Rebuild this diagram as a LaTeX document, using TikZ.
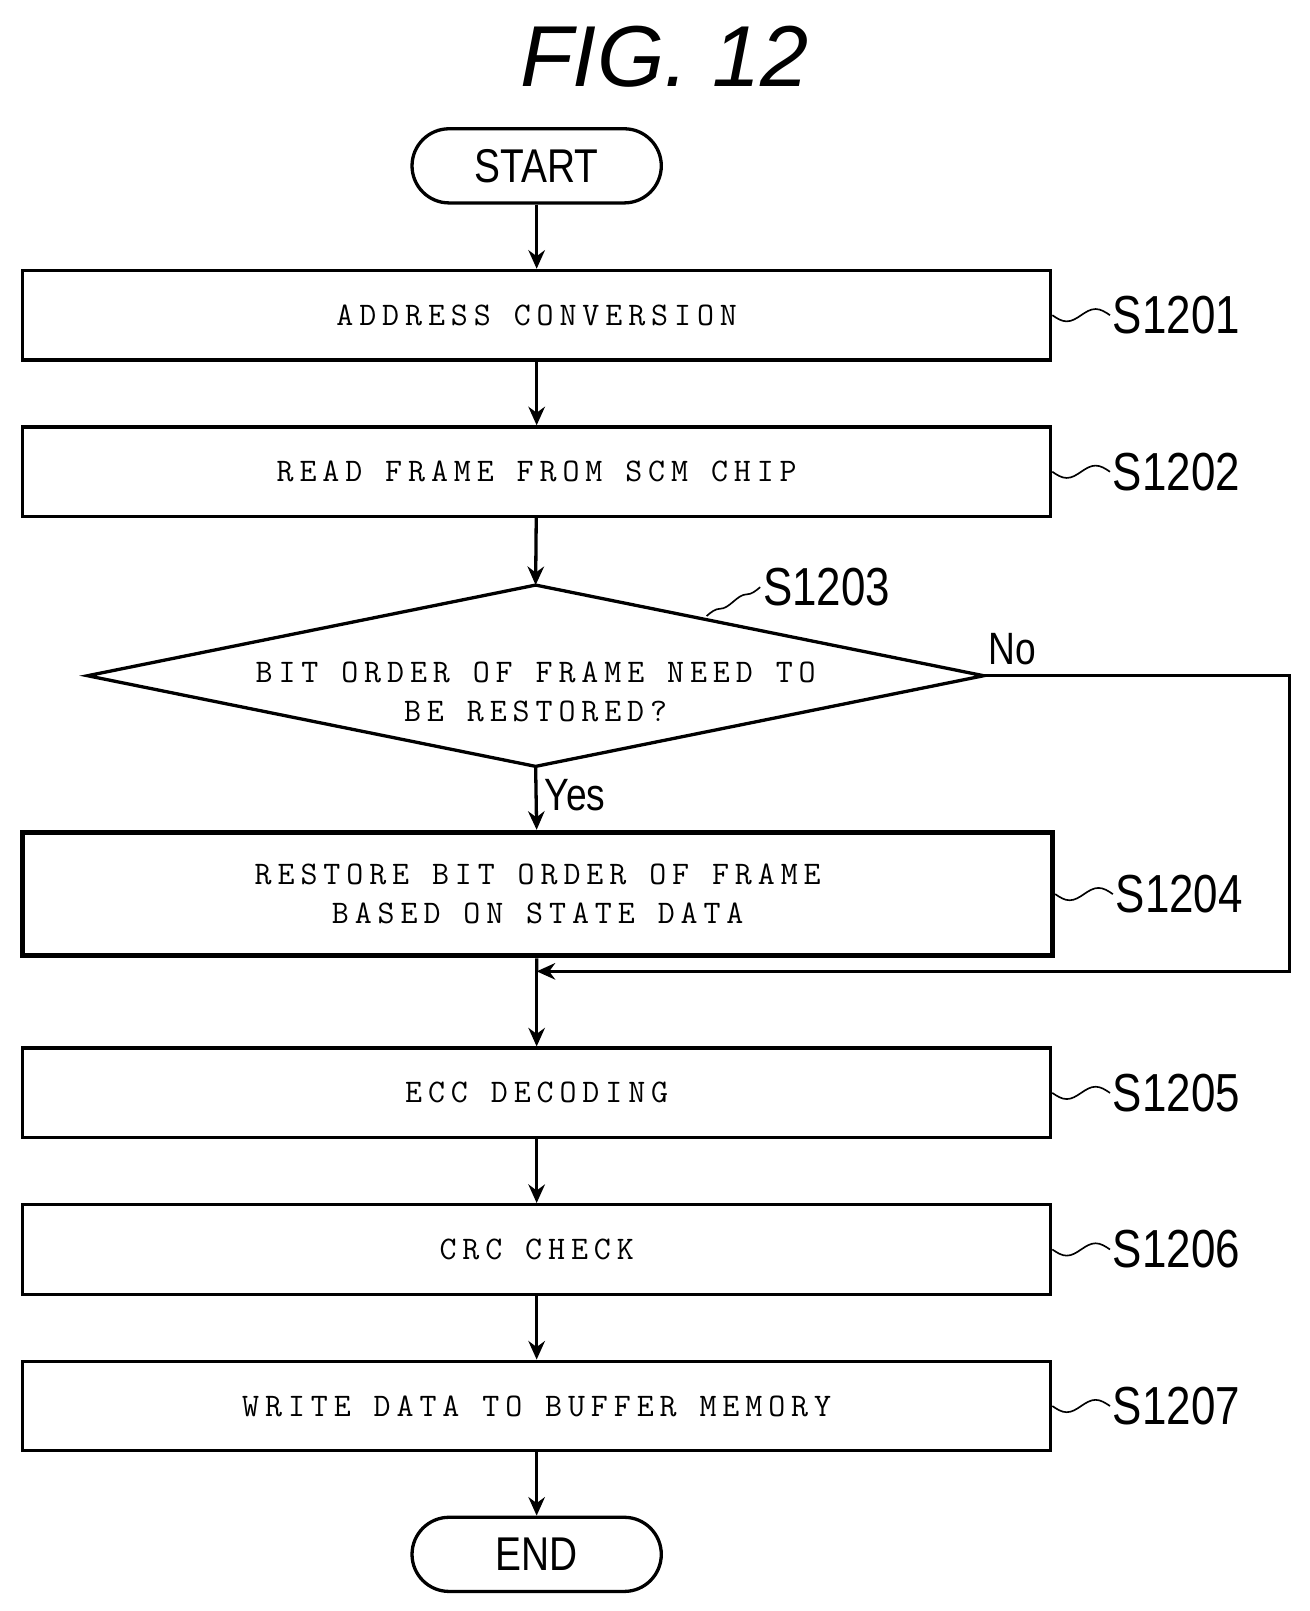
\documentclass[tikz,border=0pt]{standalone}
\usepackage{fontspec}
\usetikzlibrary{positioning,arrows.meta}
\newfontfamily\boxfont[LetterSpace=18]{Latin Modern Mono}
\newfontfamily\labfont[FakeStretch=0.82]{Liberation Sans}
\newfontfamily\figfont{Liberation Sans}
\newcommand\steptick[2]{\draw[line width=0.8pt] (#1) sin ++(14,6) cos ++(14,-6) sin ++(14,-6) cos ++(14,6) node[anchor=west,inner sep=1pt,font=\labfont\fontsize{26}{30}\selectfont] {#2};}
\begin{document}
\begin{tikzpicture}[x=0.5pt,y=-0.5pt,
  procbox/.style={draw,line width=1.6pt,minimum width=499pt,minimum height=43.5pt,align=center,font=\boxfont\fontsize{16}{19}\selectfont},
  term/.style={draw,line width=1.6pt,rounded corners=18pt,minimum width=121pt,minimum height=36pt,font=\labfont\fontsize{23}{28}\selectfont},
  flow/.style={line width=1.6pt,-{Stealth[length=9pt,width=8pt]}}]
\useasboundingbox (0,0) rectangle (1271,1564);
% title
\node[font=\figfont\itshape\fontsize{42}{50}\selectfont] (title) at (645,55) {FIG. 12};
% terminals and steps
\node[term] (start) at (521,161) {START};
\node[procbox] (s1) at (521,306) {ADDRESS CONVERSION};
\node[procbox] (s2) at (521,458) {READ FRAME FROM SCM CHIP};
\coordinate (dt) at (520,568); \coordinate (db) at (520,744);
\coordinate (dl) at (85,656); \coordinate (dr) at (955,656);
\draw[line width=1.6pt] (dt) -- (dr) -- (db) -- (dl) -- cycle;
\node[align=center,font=\boxfont\fontsize{16}{19}\selectfont] (s3) at (520,672) {BIT ORDER OF FRAME NEED TO\\BE RESTORED?};
\node[procbox,line width=2.4pt,minimum width=500pt,minimum height=60pt] (s4) at (522,868) {RESTORE BIT ORDER OF FRAME\\BASED ON STATE DATA};
\node[procbox] (s5) at (521,1061) {ECC DECODING};
\node[procbox] (s6) at (521,1213) {CRC CHECK};
\node[procbox] (s7) at (521,1365) {WRITE DATA TO BUFFER MEMORY};
\node[term] (end) at (521,1509) {END};
% connectors
\draw[flow] (start) -- (s1);
\draw[flow] (s1) -- (s2);
\draw[flow] (s2) -- (dt);
\draw[flow] (db) -- (s4) node[pos=0.45,right,font=\labfont\fontsize{22}{26}\selectfont] {Yes};
\coordinate (join) at (521,943);
\draw[line width=1.6pt] (s4) -- (join);
\draw[flow] (join) -- (s5);
\draw[flow] (dr) -- (1252,656) -- (1252,943) -- (join);
\node[font=\labfont\fontsize{22}{26}\selectfont] (no) at (983,630) {No};
\draw[flow] (s5) -- (s6);
\draw[flow] (s6) -- (s7);
\draw[flow] (s7) -- (end);
% step labels
\steptick{s1.east}{S1201}
\steptick{s2.east}{S1202}
\steptick{s4.east}{S1204}
\steptick{s5.east}{S1205}
\steptick{s6.east}{S1206}
\steptick{s7.east}{S1207}
\coordinate (d3) at (686,598);
\draw[line width=0.8pt] (d3) sin ++(13,-7) cos ++(13,-7) sin ++(13,-7) cos ++(13,-7) node[anchor=west,inner sep=1pt,font=\labfont\fontsize{26}{30}\selectfont] (l3) {S1203};
\end{tikzpicture}
\end{document}
